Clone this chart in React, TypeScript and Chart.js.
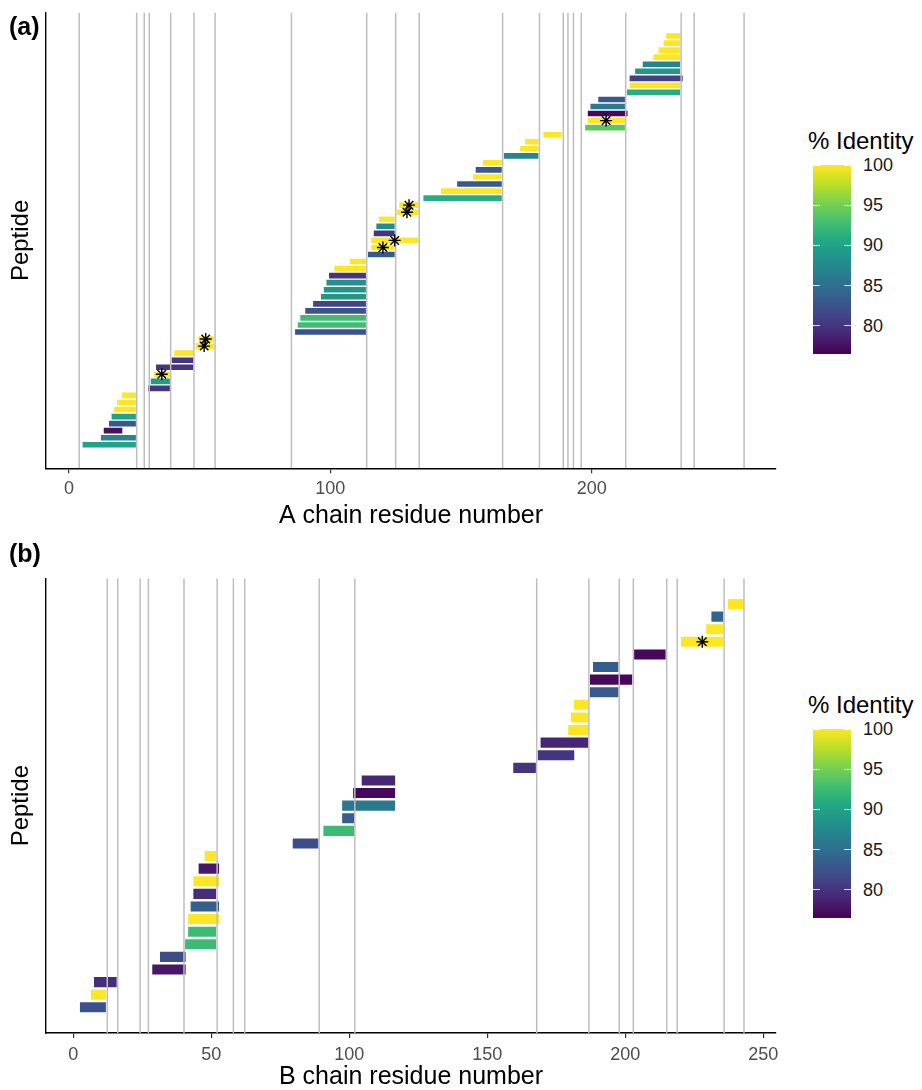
import React, { useEffect, useRef } from 'react';
import { Chart, registerables } from 'chart.js';

Chart.register(...registerables);

const FONT = '"Liberation Sans", Arial, Helvetica, sans-serif';

// ---------- Panel (a): A chain ----------
const aStart = [5.2, 12.2, 13.3, 15.3, 16.3, 17.3, 18.4, 20.3, 30.3, 31.3, 32.5, 33.3, 39.3, 40.2, 48.5, 49.5, 86.5, 87.5, 88.5, 90.4, 93.4, 96.4, 97.5, 98.5, 99.5, 101.5, 107.4, 114.4, 115.6, 115.6, 116.6, 117.6, 118.6, 125.4, 126.4, 135.6, 142.3, 148.5, 154.6, 155.6, 158.4, 166.4, 172.6, 174.5, 181.5, 197.5, 198.5, 198.5, 199.5, 202.5, 213.5, 214.5, 214.5, 216.6, 219.5, 223.6, 225.6, 227.5, 228.5];
const aEnd = [25.6, 25.6, 20.4, 25.6, 25.6, 25.6, 25.6, 25.6, 38.6, 38.6, 38.6, 47.6, 47.6, 47.6, 55.5, 55.5, 113.6, 113.6, 113.6, 113.6, 113.6, 113.6, 113.6, 113.6, 113.6, 113.6, 113.6, 124.6, 124.6, 133.7, 124.6, 124.6, 124.6, 133.7, 133.7, 165.6, 165.6, 165.6, 165.6, 165.6, 165.6, 179.6, 179.6, 179.6, 188.5, 212.7, 212.7, 213.7, 212.7, 212.7, 233.8, 233.8, 234.8, 233.8, 233.8, 233.8, 233.8, 233.8, 233.8];
const aIdentity = [90, 87, 77.5, 83, 90, 100, 100, 100, 80, 89.5, 100, 80, 80, 100, 100, 100, 82.5, 92.7, 92.7, 82.5, 81.2, 88.7, 88.7, 88.3, 80, 100, 100, 83, 100, 100, 80, 88, 100, 100, 100, 91, 100, 83, 100, 83, 100, 87, 100, 100, 100, 94, 100, 77, 86, 83, 91, 100, 81, 89, 87, 100, 100, 100, 100];
const aStarRows = [11, 15, 16, 29, 30, 34, 35, 47];
const aStarResidue = [35.5, 51.7, 52.3, 120.1, 124.6, 129.3, 130.1, 205.5];
const aBoundaries = [3.9, 25.9, 28.8, 30.7, 38.9, 47.8, 55.9, 85.1, 113.9, 125.0, 134.0, 165.9, 180.0, 189.1, 190.9, 193.0, 196.0, 213.0, 234.2, 239.2, 258.3];
const aTicks = [0, 100, 200];

// ---------- Panel (b): B chain ----------
const bStart = [2.4, 6.4, 7.5, 28.6, 31.4, 40.5, 41.6, 41.6, 42.5, 43.5, 43.5, 45.4, 47.6, 79.5, 90.6, 97.4, 97.4, 101.4, 104.5, 159.4, 168.3, 169.3, 179.3, 180.3, 181.4, 187.2, 187.2, 188.3, 203.2, 220.2, 229.3, 231.2, 237.2];
const bEnd = [11.8, 11.8, 15.7, 40.7, 40.7, 51.7, 51.7, 52.8, 52.8, 51.7, 52.8, 52.8, 51.7, 88.8, 101.7, 101.7, 116.6, 116.6, 116.6, 167.6, 181.5, 186.6, 186.6, 186.6, 186.6, 197.5, 202.5, 197.5, 214.6, 235.5, 235.5, 235.5, 242.8];
const bIdentity = [82.5, 100, 79.5, 78, 82, 92.5, 92.5, 100, 83.5, 79.5, 100, 78, 100, 82, 92.5, 83.5, 86, 77, 79, 80, 80, 79, 100, 100, 100, 83, 77, 83.5, 77, 100, 100, 84, 100];
const bStarRows = [30];
const bStarResidue = [227.9];
const bBoundaries = [12.3, 16.1, 24.2, 27.2, 40.1, 52.1, 58.0, 62.1, 89.1, 102.0, 167.9, 186.8, 197.8, 202.9, 215.0, 218.8, 235.8, 243.0];
const bTicks = [0, 50, 100, 150, 200, 250];

// ---------- Colour scale ----------
const legendTicks = [80, 85, 90, 95, 100];
const identityMin = 76.5;
const identityMax = 100;
const VIRIDIS = ['#440154', '#482475', '#414487', '#355f8d', '#2a788e', '#21918c', '#22a884', '#44bf70', '#7ad151', '#bddf26', '#fde725'];

function hexToRgb(h: string) {
  return [parseInt(h.slice(1, 3), 16), parseInt(h.slice(3, 5), 16), parseInt(h.slice(5, 7), 16)];
}
function viridis(t: number) {
  const c = Math.max(0, Math.min(1, t)) * (VIRIDIS.length - 1);
  const i = Math.min(Math.floor(c), VIRIDIS.length - 2);
  const f = c - i;
  const a = hexToRgb(VIRIDIS[i]);
  const b = hexToRgb(VIRIDIS[i + 1]);
  const m = a.map((v, k) => Math.round(v + (b[k] - v) * f));
  return `rgb(${m[0]},${m[1]},${m[2]})`;
}
function identityColor(v: number) {
  return viridis((v - identityMin) / (identityMax - identityMin));
}

type PanelProps = {
  start: number[];
  end: number[];
  identity: number[];
  starRows: number[];
  starResidue: number[];
  boundaries: number[];
  ticks: number[];
  xMin: number;
  xMax: number;
  yMin: number;
  yMax: number;
  xTitle: string;
  top: number;
  width: number;
  height: number;
  padTop: number;
  plotBottom: number;
  tickPad: number;
  titlePad: number;
};

function Panel(p: PanelProps) {
  const ref = useRef<HTMLCanvasElement | null>(null);
  useEffect(() => {
    const canvas = ref.current;
    if (!canvas) return;
    const boundaryPlugin = {
      id: 'boundaries',
      afterDatasetDraw(chart: any, args: any) {
        if (args.index !== 1) return;
        const { ctx, chartArea } = chart;
        const xs = chart.scales.x;
        ctx.save();
        ctx.beginPath();
        ctx.rect(chartArea.left, chartArea.top, chartArea.right - chartArea.left, chartArea.bottom - chartArea.top);
        ctx.clip();
        ctx.strokeStyle = '#bebebe';
        ctx.lineWidth = 1.5;
        for (const v of p.boundaries) {
          const px = xs.getPixelForValue(v);
          ctx.beginPath();
          ctx.moveTo(px, chartArea.top);
          ctx.lineTo(px, chartArea.bottom);
          ctx.stroke();
        }
        ctx.restore();
      },
    };
    const xAxisHeight = p.height - p.plotBottom;
    const chart = new Chart(canvas, {
      type: 'bar',
      data: {
        datasets: [
          {
            type: 'scatter',
            data: p.starRows.map((r, i) => ({ x: p.starResidue[i], y: r })),
            pointStyle: 'star',
            pointRadius: 6,
            pointBorderColor: '#000',
            pointBackgroundColor: '#000',
            pointBorderWidth: 1.4,
            showLine: false,
          } as any,
          {
            type: 'bar',
            indexAxis: 'y',
            data: p.start.map((s, i) => ({ x: [s, p.end[i]], y: i + 1 })),
            backgroundColor: p.identity.map(identityColor),
            borderWidth: 0,
            barPercentage: 0.8,
            categoryPercentage: 1,
          } as any,
        ],
      },
      options: {
        responsive: false,
        animation: false,
        devicePixelRatio: 1,
        events: [],
        layout: { padding: { top: p.padTop, right: p.width - 776, bottom: 0, left: 0 } },
        plugins: { legend: { display: false }, tooltip: { enabled: false } },
        scales: {
          x: {
            type: 'linear',
            position: 'bottom',
            min: p.xMin,
            max: p.xMax,
            offset: false,
            beginAtZero: false,
            afterBuildTicks: (s: any) => {
              s.ticks = p.ticks.map((v) => ({ value: v }));
            },
            afterFit: (s: any) => {
              s.height = xAxisHeight;
            },
            grid: { display: true, offset: false, drawOnChartArea: false, drawTicks: true, tickLength: 5, color: '#333333', lineWidth: 1.2 },
            border: { display: true, color: '#000', width: 1.4 },
            ticks: {
              color: '#4d4d4d',
              font: { family: FONT, size: 18 },
              padding: p.tickPad,
              maxRotation: 0,
              autoSkip: false,
              callback: (v: any) => String(v),
            },
            title: {
              display: true,
              text: p.xTitle,
              color: '#000',
              font: { family: FONT, size: 25, lineHeight: 1 },
              padding: { top: 0, bottom: p.titlePad },
            },
          },
          y: {
            type: 'linear',
            position: 'left',
            min: p.yMin,
            max: p.yMax,
            offset: false,
            beginAtZero: false,
            afterBuildTicks: (s: any) => {
              s.ticks = [];
            },
            afterFit: (s: any) => {
              s.width = 46;
            },
            grid: { display: false, offset: false },
            border: { display: true, color: '#000', width: 1.4 },
            ticks: { display: false },
            title: {
              display: true,
              text: 'Peptide',
              color: '#000',
              font: { family: FONT, size: 24, lineHeight: 1 },
              padding: { top: 9, bottom: 0 },
            },
          },
        },
      } as any,
      plugins: [boundaryPlugin],
    });
    return () => chart.destroy();
  }, []);
  return (
    <canvas
      ref={ref}
      width={p.width}
      height={p.height}
      style={{ position: 'absolute', left: 0, top: p.top, width: p.width, height: p.height }}
    />
  );
}

function ColorBar({ titleY }: { titleY: number }) {
  const barTop = titleY + 24;
  const barH = 189;
  const barLeft = 813;
  const barW = 38;
  const pxPer = barH / (identityMax - identityMin);
  const gradient = `linear-gradient(to top, ${VIRIDIS.join(', ')})`;
  return (
    <>
      <div
        style={{
          position: 'absolute',
          left: 808,
          top: titleY - 13,
          fontFamily: FONT,
          fontSize: 24,
          lineHeight: '26px',
          whiteSpace: 'nowrap',
          color: '#000',
        }}
      >
        % Identity
      </div>
      <div style={{ position: 'absolute', left: barLeft, top: barTop, width: barW, height: barH, background: gradient }} />
      {legendTicks.map((v) => {
        const y = barTop + barH - (v - identityMin) * pxPer;
        return (
          <React.Fragment key={v}>
            <div style={{ position: 'absolute', left: barLeft, top: y - 0.5, width: 7, height: 1, background: 'rgba(255,255,255,0.85)' }} />
            <div style={{ position: 'absolute', left: barLeft + barW - 7, top: y - 0.5, width: 7, height: 1, background: 'rgba(255,255,255,0.85)' }} />
            <div
              style={{
                position: 'absolute',
                left: 863,
                top: y - 11,
                fontFamily: FONT,
                fontSize: 18,
                lineHeight: '22px',
                color: '#1a1a1a',
                whiteSpace: 'nowrap',
              }}
            >
              {v}
            </div>
          </React.Fragment>
        );
      })}
    </>
  );
}

export default function App() {
  return (
    <div
      style={{
        position: 'fixed',
        left: 0,
        top: 0,
        width: 922,
        height: 1090,
        overflow: 'hidden',
        background: '#ffffff',
      }}
    >
      <Panel
        start={aStart}
        end={aEnd}
        identity={aIdentity}
        starRows={aStarRows}
        starResidue={aStarResidue}
        boundaries={aBoundaries}
        ticks={aTicks}
        xMin={-8.8}
        xMax={270.5}
        yMin={-2.34}
        yMax={62.34}
        xTitle="A chain residue number"
        top={0}
        width={790}
        height={535}
        padTop={12.5}
        plotBottom={468.3}
        tickPad={5}
        titlePad={6.5}
      />
      <Panel
        start={bStart}
        end={bEnd}
        identity={bIdentity}
        starRows={bStarRows}
        starResidue={bStarResidue}
        boundaries={bBoundaries}
        ticks={bTicks}
        xMin={-9.9}
        xMax={254.6}
        yMin={-1.04}
        yMax={35.04}
        xTitle="B chain residue number"
        top={540}
        width={790}
        height={550}
        padTop={38.3}
        plotBottom={493}
        tickPad={6}
        titlePad={0}
      />
      <div style={{ position: 'absolute', left: 9, top: 12, fontFamily: FONT, fontWeight: 'bold', fontSize: 25, lineHeight: '28px', color: '#000' }}>
        (a)
      </div>
      <div style={{ position: 'absolute', left: 9, top: 539, fontFamily: FONT, fontWeight: 'bold', fontSize: 25, lineHeight: '28px', color: '#000' }}>
        (b)
      </div>
      <ColorBar titleY={141} />
      <ColorBar titleY={705} />
    </div>
  );
}
